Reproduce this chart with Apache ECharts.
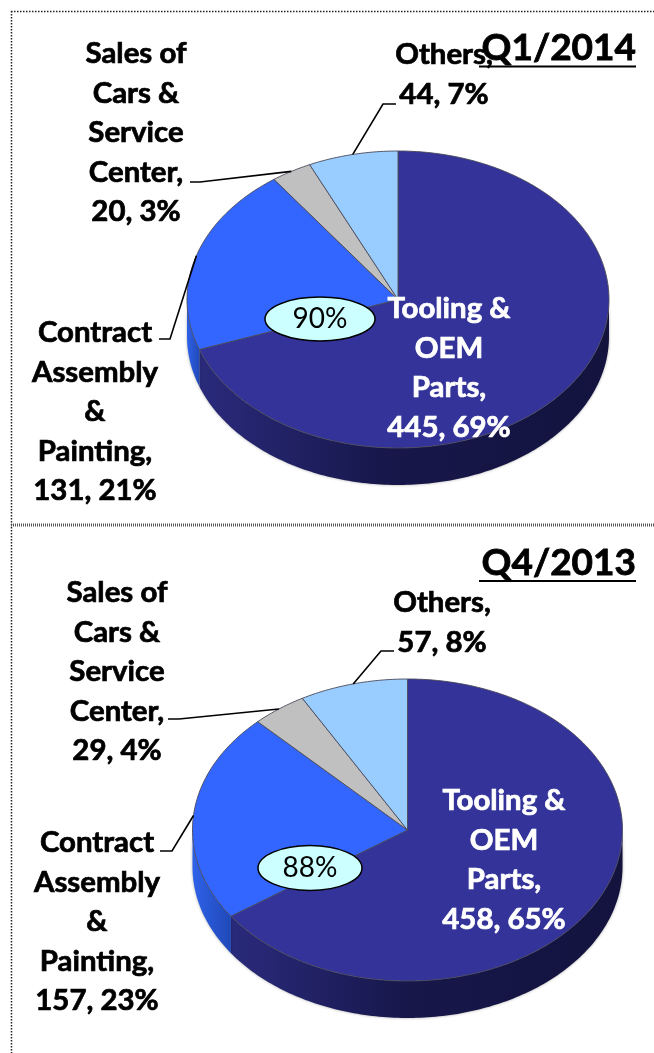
<!DOCTYPE html>
<html><head><meta charset="utf-8">
<style>html,body{margin:0;padding:0;background:#fff}#c{width:654px;height:1053px}</style>
<script src="https://cdn.jsdelivr.net/npm/echarts@6/dist/echarts.min.js"></script>
</head><body><div id="c"></div>
<script>
// --- data ---
var categories = ['Tooling & OEM Parts', 'Contract Assembly & Painting', 'Sales of Cars & Service Center', 'Others'];
var labelLines = ['Tooling &\nOEM\nParts,', 'Contract\nAssembly\n&\nPainting,', 'Sales of\nCars &\nService\nCenter,', 'Others,'];
var q1Values = [445, 131, 20, 44];
var q1Percents = [69, 21, 3, 7];
var q4Values = [458, 157, 29, 57];
var q4Percents = [65, 23, 4, 8];
var q1Badge = '90%';
var q4Badge = '88%';
var q1Title = 'Q1/2014';
var q4Title = 'Q4/2013';

// --- styling / layout ---
var FONT = 'Lato, "Open Sans", sans-serif';
var topColors = ['#333399', '#3366FF', '#C0C0C0', '#99CCFF'];
var wallColors = [
  [{offset:0,color:'#2a2a7c'},{offset:0.45,color:'#17174b'},{offset:1,color:'#13133e'}],
  [{offset:0,color:'#2f62ea'},{offset:1,color:'#2049b8'}],
  [{offset:0,color:'#999'},{offset:1,color:'#999'}],
  [{offset:0,color:'#7aa'},{offset:1,color:'#7aa'}]
];
var FS = 28, LH = 39.6, SX = 1.05;
var q1Layout = {cx:398, cy:299.5, rx:211, ry:148.5, depth:37,
  labels:[{x:449,y:309,c:'#fff'},{x:95,y:333,c:'#000'},{x:136,y:54,c:'#000'},{x:444,y:55,c:'#000'}],
  elbows:[null,[[170,339],[159,339]],[[200,182],[190,182]],[[383,104],[396,104]]],
  badge:{x:320,y:319,rx:55,ry:22}, title:{y:48,uy:66.5}};
var q4Layout = {cx:407.5, cy:830, rx:215, ry:151, depth:37,
  labels:[{x:504,y:801,c:'#fff'},{x:97,y:843,c:'#000'},{x:117,y:593,c:'#000'},{x:442,y:603,c:'#000'}],
  elbows:[null,[[172,851],[160,851]],[[179,719],[168,719]],[[381,651],[394,651]]],
  badge:{x:310,y:868,rx:52,ry:22.5}, title:{y:563,uy:581}};

function ranges(vals){
  var t = vals.reduce(function(a,b){return a+b;},0), s = 0;
  return vals.map(function(v){var a = s; s += v/t*360; return [a,s];});
}
function pt(L,deg,dy){
  var r = deg*Math.PI/180;
  return [L.cx + L.rx*Math.sin(r), L.cy - L.ry*Math.cos(r) + (dy||0)];
}
function arc(L,a,b,dy){
  var out = [], n = Math.max(2,Math.ceil(Math.abs(b-a)));
  for (var i=0;i<=n;i++) out.push(pt(L,a+(b-a)*i/n,dy));
  return out;
}
function wallSeries(vals,L){
  var R = ranges(vals);
  return {type:'custom',coordinateSystem:'none',z:2,silent:true,data:vals.map(function(v,i){return [i,v];}),
    renderItem:function(p,api){
      var i = api.value(0), a = Math.max(R[i][0],90), b = Math.min(R[i][1],270);
      if (b<=a) return {type:'group',children:[]};
      var pts = arc(L,a,b,0).concat(arc(L,b,a,L.depth));
      return {type:'polygon',shape:{points:pts},style:{
        fill:{type:'linear',x:0,y:0,x2:1,y2:0,colorStops:wallColors[i]},
        shadowBlur:3,shadowColor:'rgba(0,0,0,0.35)'}};
    }};
}
function topSeries(vals,L){
  var R = ranges(vals);
  return {type:'custom',coordinateSystem:'none',z:3,silent:true,data:vals.map(function(v,i){return [i,v];}),
    renderItem:function(p,api){
      var i = api.value(0);
      var pts = [[L.cx,L.cy]].concat(arc(L,R[i][0],R[i][1],0));
      return {type:'polygon',shape:{points:pts},style:{fill:topColors[i],stroke:'#4a4a5a',lineWidth:0.9}};
    }};
}
function labelSeries(vals,pcts,L){
  var R = ranges(vals);
  return {type:'custom',coordinateSystem:'none',z:5,silent:true,data:vals.map(function(v,i){return [i,v,pcts[i]];}),
    renderItem:function(p,api){
      var i = api.value(0), l = L.labels[i], ch = [];
      if (L.elbows[i]) {
        var mid = (R[i][0]+R[i][1])/2;
        ch.push({type:'polyline',shape:{points:[pt(L,mid,0)].concat(L.elbows[i])},
          style:{fill:null,stroke:'#000',lineWidth:1.6}});
      }
      ch.push({type:'text',x:l.x,y:l.y-LH/2,scaleX:SX,style:{
        text:labelLines[i]+'\n'+api.value(1)+', '+api.value(2)+'%',
        font:'bold '+FS+'px '+FONT,lineHeight:LH,fill:l.c,align:'center',verticalAlign:'top',
        stroke:l.c,lineWidth:0.7}});
      return {type:'group',children:ch};
    }};
}
function frameGraphics(L,titleText,badgeText){
  var b = L.badge, t = L.title;
  return [
    {type:'ellipse',z:10,shape:{cx:b.x,cy:b.y,rx:b.rx,ry:b.ry},style:{fill:'#CCFFFF',stroke:'#000',lineWidth:1.5}},
    {type:'text',z:11,x:b.x,y:b.y,style:{text:badgeText,font:'28px '+FONT,fill:'#000',align:'center',verticalAlign:'middle'}},
    {type:'text',z:12,x:636,y:t.y,style:{text:titleText,font:'bold 37px '+FONT,fill:'#000',align:'right',verticalAlign:'middle',stroke:'#000',lineWidth:0.8}},
    {type:'line',z:12,shape:{x1:479,y1:t.uy,x2:636,y2:t.uy},style:{stroke:'#000',lineWidth:2}}
  ];
}
var borders = [
  {type:'line',shape:{x1:11.5,y1:11,x2:11.5,y2:1053},style:{stroke:'#222',lineWidth:1.5,lineDash:[1.5,1.5]}},
  {type:'line',shape:{x1:11,y1:11.5,x2:654,y2:11.5},style:{stroke:'#222',lineWidth:1.5,lineDash:[1.5,1.5]}},
  {type:'line',shape:{x1:11,y1:525,x2:654,y2:525},style:{stroke:'#555',lineWidth:3,lineDash:[1,1]}}
];
var chart = echarts.init(document.getElementById('c'));
chart.setOption({
  animation:false,
  backgroundColor:'#fff',
  graphic:{elements:borders.concat(frameGraphics(q1Layout,q1Title,q1Badge),frameGraphics(q4Layout,q4Title,q4Badge))},
  series:[
    wallSeries(q1Values,q1Layout),topSeries(q1Values,q1Layout),labelSeries(q1Values,q1Percents,q1Layout),
    wallSeries(q4Values,q4Layout),topSeries(q4Values,q4Layout),labelSeries(q4Values,q4Percents,q4Layout)
  ]
});
</script></body></html>
